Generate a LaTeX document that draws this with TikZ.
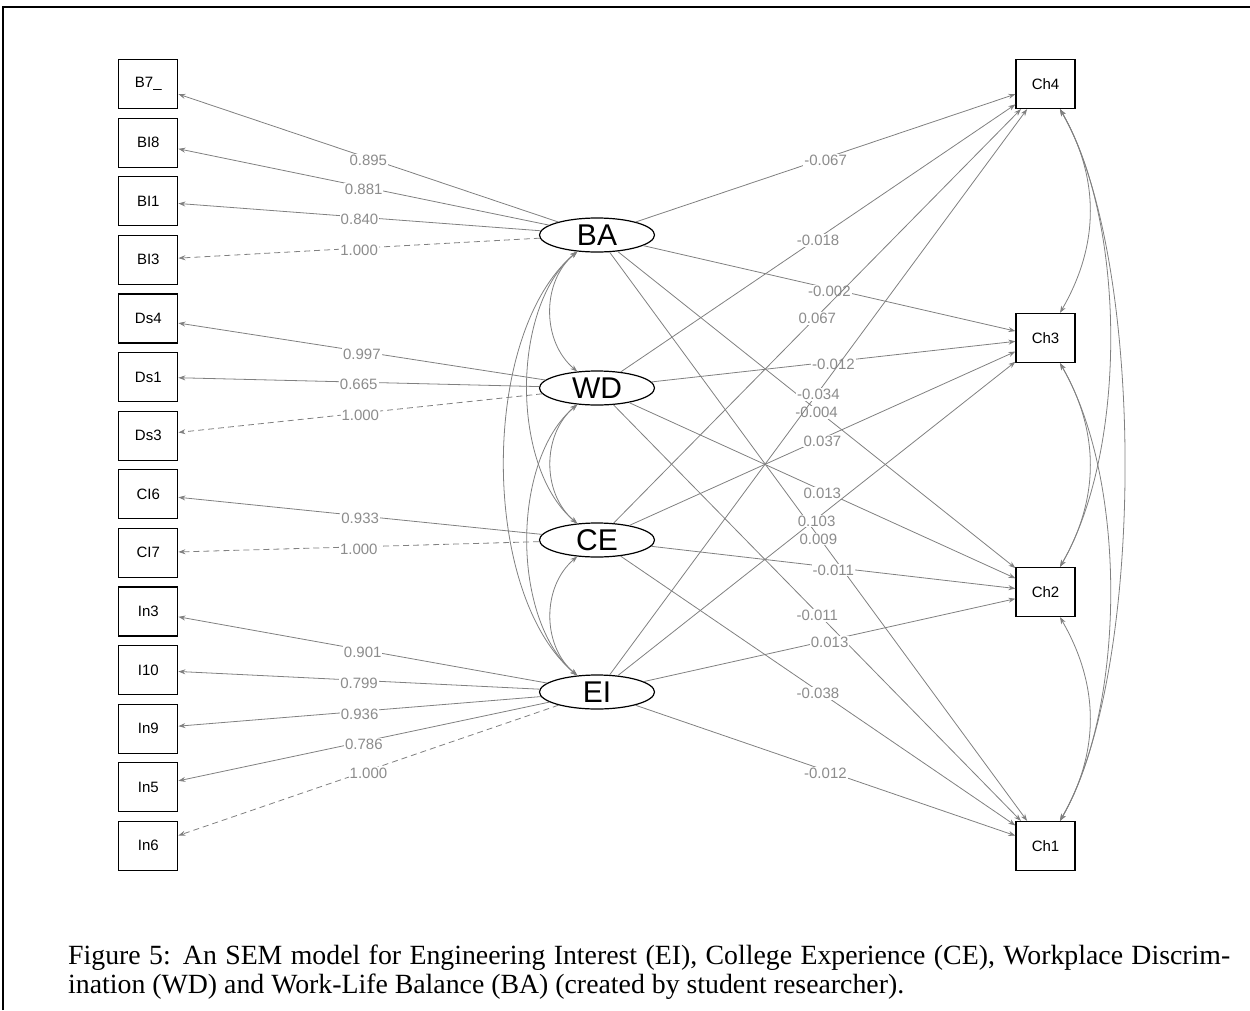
\documentclass[tikz,border=0pt]{standalone}
\usepackage{fontspec}
\setmainfont{Liberation Sans}
\newfontfamily\capfont{Liberation Serif}
\usetikzlibrary{arrows.meta,shapes.geometric}
\definecolor{edgegray}{RGB}{128,128,128}
\definecolor{labgray}{RGB}{140,140,140}
\begin{document}
\begin{tikzpicture}[x=1pt,y=1pt,
  obs/.style={draw=black, line width=1.2pt, minimum width=59pt, minimum height=49pt, inner sep=0pt, font=\fontsize{15}{17}\selectfont},
  lat/.style={ellipse, draw=black, line width=1.2pt, minimum width=115pt, minimum height=34pt, inner sep=0pt},
  latlab/.style={font=\fontsize{30}{30}\selectfont, inner sep=0pt},
  semedge/.style={draw=edgegray, line width=0.8pt, -{Stealth[length=7pt,width=5pt]}},
  fixedge/.style={semedge, dash pattern=on 6pt off 4pt},
  lab/.style={fill=white, text=labgray, inner sep=1pt, yshift=-2.5pt, font=\fontsize{15}{17}\selectfont},
  cov/.style={draw=edgegray, line width=0.8pt, {Stealth[length=7pt,width=5pt]}-{Stealth[length=7pt,width=5pt]}},
  capt/.style={anchor=base west, inner sep=0pt, font=\capfont\fontsize{27.8}{33}\selectfont},
]
\useasboundingbox (0,0) rectangle (1250,-1010);
\draw[line width=1.5pt] (3,-1010) -- (3,-7) -- (1250,-7);

% observed indicators (left)
\node[obs] (B7)  at (148.3,-84)    {B7\_};
\node[obs] (BI8) at (148.3,-142.6) {BI8};
\node[obs] (BI1) at (148.3,-201.2) {BI1};
\node[obs] (BI3) at (148.3,-259.8) {BI3};
\node[obs] (Ds4) at (148.3,-318.4) {Ds4};
\node[obs] (Ds1) at (148.3,-377)   {Ds1};
\node[obs] (Ds3) at (148.3,-435.6) {Ds3};
\node[obs] (CI6) at (148.3,-494.2) {CI6};
\node[obs] (CI7) at (148.3,-552.8) {CI7};
\node[obs] (In3) at (148.3,-611.4) {In3};
\node[obs] (I10) at (148.3,-670)   {I10};
\node[obs] (In9) at (148.3,-728.6) {In9};
\node[obs] (In5) at (148.3,-787.2) {In5};
\node[obs] (In6) at (148.3,-845.8) {In6};

% outcomes (right)
\node[obs] (Ch4) at (1045.5,-84)  {Ch4};
\node[obs] (Ch3) at (1045.5,-338) {Ch3};
\node[obs] (Ch2) at (1045.5,-592) {Ch2};
\node[obs] (Ch1) at (1045.5,-846) {Ch1};

% latents
\node[lat, label={[latlab]center:BA}] (BA) at (597,-235) {};
\node[lat, label={[latlab]center:WD}] (WD) at (597,-388) {};
\node[lat, label={[latlab]center:CE}] (CE) at (597,-540) {};
\node[lat, label={[latlab]center:EI}] (EI) at (597,-692) {};

% loadings
\draw[semedge] (BA) -- node[lab]{0.895} (B7);
\draw[semedge] (BA) -- node[lab]{0.881} (BI8);
\draw[semedge] (BA) -- node[lab]{0.840} (BI1);
\draw[fixedge] (BA) -- node[lab]{1.000} (BI3);
\draw[semedge] (WD) -- node[lab]{0.997} (Ds4);
\draw[semedge] (WD) -- node[lab]{0.665} (Ds1);
\draw[fixedge] (WD) -- node[lab]{1.000} (Ds3);
\draw[semedge] (CE) -- node[lab]{0.933} (CI6);
\draw[fixedge] (CE) -- node[lab]{1.000} (CI7);
\draw[semedge] (EI) -- node[lab]{0.901} (In3);
\draw[semedge] (EI) -- node[lab]{0.799} (I10);
\draw[semedge] (EI) -- node[lab]{0.936} (In9);
\draw[semedge] (EI) -- node[lab]{0.786} (In5);
\draw[fixedge] (EI) -- node[lab]{1.000} (In6);

% structural paths
\draw[semedge] (BA) -- node[lab]{-0.067} (Ch4);
\draw[semedge] (BA) -- node[lab]{-0.002} (Ch3);
\draw[semedge] (BA) -- node[lab]{-0.004} (Ch2);
\draw[semedge] (BA) -- node[lab]{0.009} (Ch1);
\draw[semedge] (WD) -- node[lab]{-0.018} (Ch4);
\draw[semedge] (WD) -- node[lab]{-0.012} (Ch3);
\draw[semedge] (WD) -- node[lab]{0.013} (Ch2);
\draw[semedge] (WD) -- node[lab]{-0.011} (Ch1);
\draw[semedge] (CE) -- node[lab]{0.067} (Ch4);
\draw[semedge] (CE) -- node[lab]{0.037} (Ch3);
\draw[semedge] (CE) -- node[lab]{-0.011} (Ch2);
\draw[semedge] (CE) -- node[lab]{-0.038} (Ch1);
\draw[semedge] (EI) -- node[lab]{-0.034} (Ch4);
\draw[semedge] (EI) -- node[lab]{0.103} (Ch3);
\draw[semedge] (EI) -- node[lab]{0.013} (Ch2);
\draw[semedge] (EI) -- node[lab]{-0.012} (Ch1);

% latent covariances
\draw[cov] (BA) to[out=220,in=140,looseness=1.0] (WD);
\draw[cov] (BA) to[out=220,in=140,looseness=0.82] (CE);
\draw[cov] (BA) to[out=220,in=140,looseness=0.77] (EI);
\draw[cov] (WD) to[out=220,in=140,looseness=1.0] (CE);
\draw[cov] (WD) to[out=220,in=140,looseness=0.82] (EI);
\draw[cov] (CE) to[out=220,in=140,looseness=1.0] (EI);

% outcome covariances
\draw[cov] (Ch4) to[out=-60,in=60,looseness=1.0] (Ch3);
\draw[cov] (Ch4) to[out=-60,in=60,looseness=0.75] (Ch2);
\draw[cov] (Ch4) to[out=-60,in=60,looseness=0.62] (Ch1);
\draw[cov] (Ch3) to[out=-60,in=60,looseness=1.0] (Ch2);
\draw[cov] (Ch3) to[out=-60,in=60,looseness=0.75] (Ch1);
\draw[cov] (Ch2) to[out=-60,in=60,looseness=1.0] (Ch1);

% caption
\node[capt] (cap1) at (68,-964)
  {\makebox[1162pt][s]{Figure 5: An SEM model for Engineering Interest (EI), College Experience (CE), Workplace Discrim-}};
\node[capt] (cap2) at (68,-993)
  {ination (WD) and Work-Life Balance (BA) (created by student researcher).};
\end{tikzpicture}
\end{document}
